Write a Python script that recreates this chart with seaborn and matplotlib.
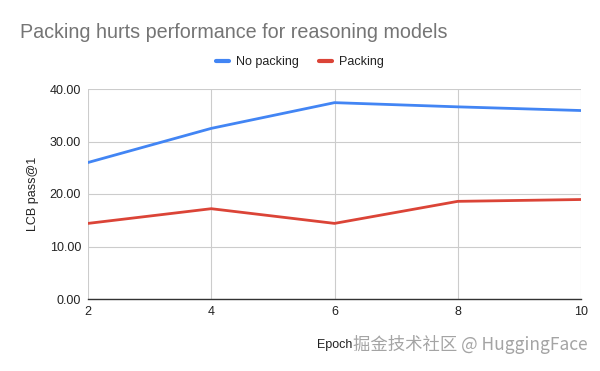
import matplotlib
matplotlib.use("Agg")
import matplotlib.pyplot as plt
import seaborn as sns
import pandas as pd
from matplotlib.lines import Line2D

epochs = [2, 4, 6, 8, 10]
no_packing = [26.0, 32.5, 37.4, 36.6, 35.9]
packing = [14.4, 17.2, 14.4, 18.6, 18.95]
series_names = ["No packing", "Packing"]
colors = ["#4285f4", "#db4437"]

df = pd.DataFrame({
    "Epoch": epochs * 2,
    "value": no_packing + packing,
    "series": [series_names[0]] * len(epochs) + [series_names[1]] * len(epochs),
})

sns.set_theme(style="white")
plt.rcParams['font.family'] = ['Liberation Sans', 'DejaVu Sans']

fig = plt.figure(figsize=(6, 3.71), dpi=100)
ax = fig.add_axes([88/600, 1 - 299/371, (581-88)/600, (299-89)/371])

sns.lineplot(data=df, x="Epoch", y="value", hue="series", palette=colors,
             hue_order=series_names, linewidth=2, ax=ax, legend=False)

ax.set_xlim(2, 10)
ax.set_ylim(0, 40)
ax.set_xticks(epochs)
ax.set_yticks([0, 10, 20, 30, 40])
ax.set_yticklabels([f"{v:.2f}" for v in [0, 10, 20, 30, 40]])
ax.grid(True, color="#cccccc", linewidth=0.8)
ax.set_axisbelow(True)
for s in ["top", "right", "left"]:
    ax.spines[s].set_visible(False)
ax.spines["bottom"].set_color("#333333")
ax.spines["bottom"].set_linewidth(1)
ax.tick_params(axis="both", length=0, labelsize=9, colors="#222222", pad=5)
ax.set_xlabel("")
ax.set_ylabel("LCB pass@1", fontsize=9, color="#222222", labelpad=8)

fig.text(20/600, 1 - 32/371, "Packing hurts performance for reasoning models",
         fontsize=14.2, color="#757575", va="center", ha="left")
fig.text(317/600, 1 - 345/371, "Epoch", fontsize=9, color="#222222", va="center", ha="left")
fig.text(588/600, 1 - 345/371, "掘金技术社区 @ HuggingFace", fontsize=12.5, color="#9a9a9a",
         va="center", ha="right", family=["Noto Sans CJK SC", "DejaVu Sans"], alpha=0.9)

handles = [Line2D([0], [0], color=c, linewidth=3) for c in colors]
fig.legend(handles, series_names, loc="center", bbox_to_anchor=(300/600, 1 - 62/371),
           ncol=2, frameon=False, fontsize=9, handlelength=1.0, handletextpad=0.6,
           columnspacing=1.6, labelcolor="#222222")

fig.savefig("out.png", dpi=100, facecolor="white")
